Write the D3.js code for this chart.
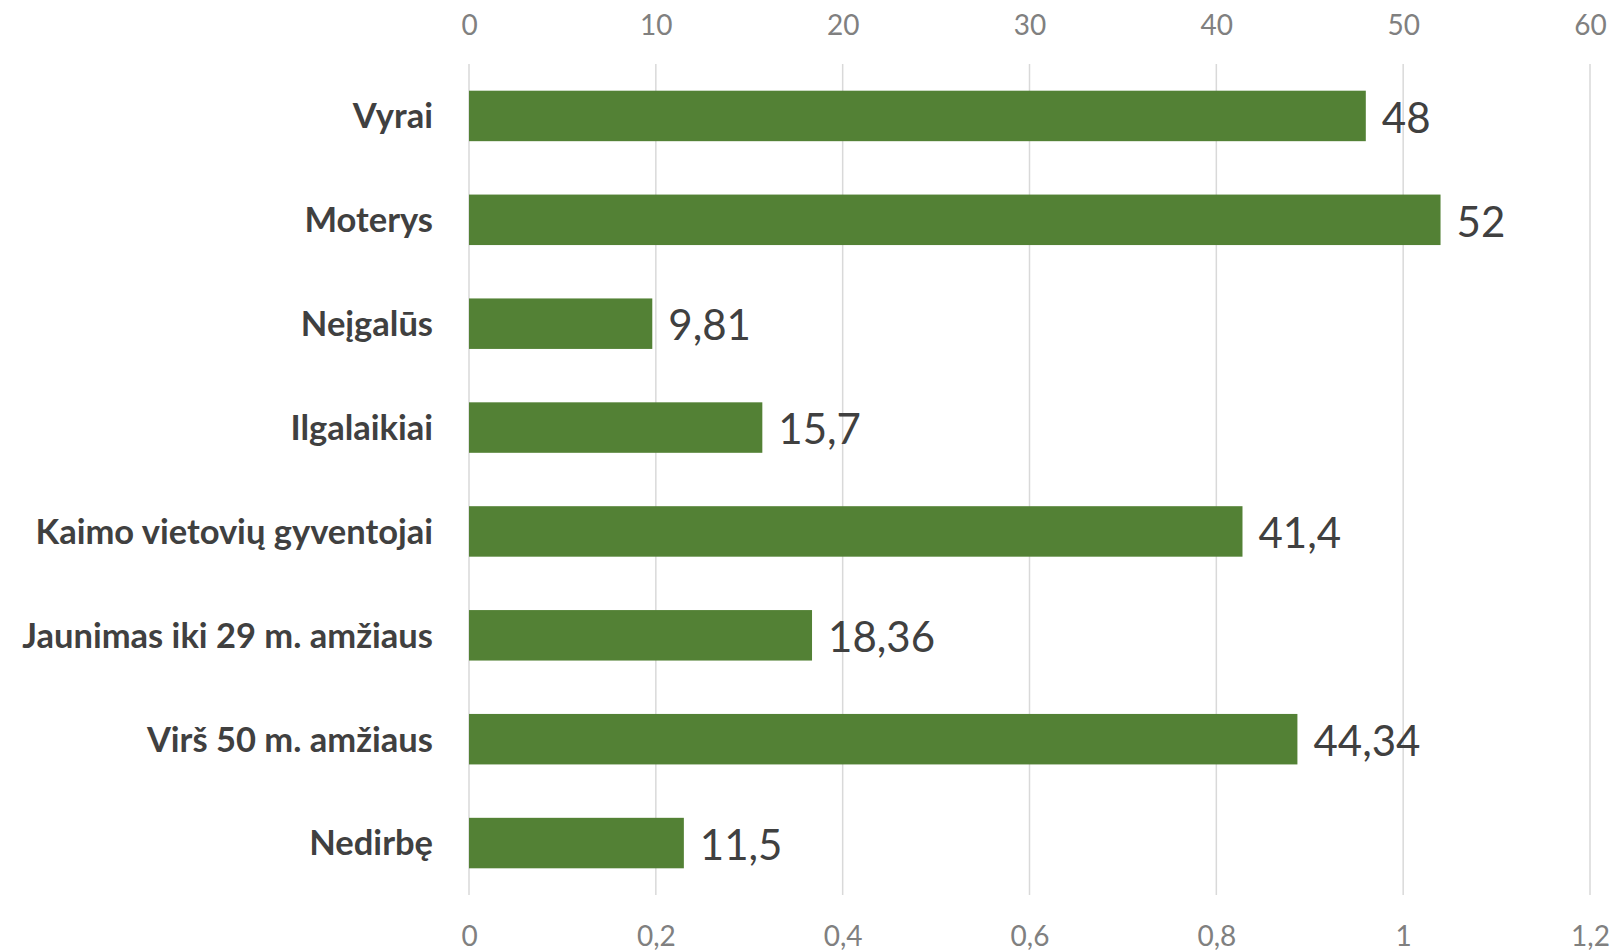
<!DOCTYPE html>
<html>
<head>
<meta charset="utf-8">
<script src="https://cdn.jsdelivr.net/npm/d3@7"></script>
<style>
  body { margin: 0; background: #fff; }
  svg text { font-family: Lato, "Open Sans", sans-serif; }
</style>
</head>
<body>
<svg id="chart" width="1616" height="952"></svg>
<script>
// chart data
var categories = ["Vyrai", "Moterys", "Neįgalūs", "Ilgalaikiai",
  "Kaimo vietovių gyventojai", "Jaunimas iki 29 m. amžiaus",
  "Virš 50 m. amžiaus", "Nedirbę"];
var values = [48, 52, 9.81, 15.7, 41.4, 18.36, 44.34, 11.5];
var topTicks = [0, 10, 20, 30, 40, 50, 60];
var bottomTicks = [0, 0.2, 0.4, 0.6, 0.8, 1, 1.2];

var svg = d3.select("svg#chart"),
  plotLeft = 469,
  plotRight = 1590,
  plotTop = 64,
  plotBottom = 895;

// lithuanian number format (comma decimal)
var lt = d3.formatLocale({ decimal: ",", thousands: " ", grouping: [3], currency: ["", " €"] });
var fmt = function (v) { return lt.format("")(v); };

var x = d3.scaleLinear().domain([0, 60]).range([plotLeft, plotRight]);
var x2 = d3.scaleLinear().domain([0, 1.2]).range([plotLeft, plotRight]);
var y = d3.scaleBand().domain(categories).range([plotTop, plotBottom])
  .paddingInner(0.514).paddingOuter(0.257);

// gridlines
svg.append("g")
  .selectAll("line")
  .data(topTicks)
  .enter()
  .append("line")
  .attr("x1", function (d) { return x(d); })
  .attr("x2", function (d) { return x(d); })
  .attr("y1", plotTop)
  .attr("y2", plotBottom)
  .attr("stroke", "#d9d9d9")
  .attr("stroke-width", 1.5);

// top axis
var gTop = svg.append("g")
  .attr("transform", "translate(0,25)")
  .call(d3.axisTop(x).tickValues(topTicks).tickSize(0).tickFormat(fmt))
  .attr("font-family", null)
  .attr("font-size", null);
gTop.select(".domain").remove();
gTop.selectAll("text")
  .attr("y", 0).attr("dy", "0.35em")
  .attr("fill", "#808080")
  .attr("font-size", 28);

// bottom axis
var gBot = svg.append("g")
  .attr("transform", "translate(0,936)")
  .call(d3.axisBottom(x2).tickValues(bottomTicks).tickSize(0).tickFormat(fmt))
  .attr("font-family", null)
  .attr("font-size", null);
gBot.select(".domain").remove();
gBot.selectAll("text")
  .attr("y", 0).attr("dy", "0.35em")
  .attr("fill", "#808080")
  .attr("font-size", 28);

// bars
svg.append("g")
  .selectAll("rect")
  .data(values)
  .enter()
  .append("rect")
  .attr("x", x(0))
  .attr("y", function (d, i) { return y(categories[i]); })
  .attr("width", function (d) { return x(d) - x(0); })
  .attr("height", y.bandwidth())
  .attr("fill", "#538135");

// value labels
svg.append("g")
  .selectAll("text")
  .data(values)
  .enter()
  .append("text")
  .attr("x", function (d) { return x(d) + 16; })
  .attr("y", function (d, i) { return y(categories[i]) + y.bandwidth() / 2; })
  .attr("dy", "0.4em")
  .attr("fill", "#404040")
  .attr("font-size", 42)
  .text(fmt);

// category labels
svg.append("g")
  .selectAll("text")
  .data(categories)
  .enter()
  .append("text")
  .attr("x", 433)
  .attr("y", function (d) { return y(d) + y.bandwidth() / 2; })
  .attr("dy", "0.36em")
  .attr("text-anchor", "end")
  .attr("fill", "#404040")
  .attr("font-weight", "bold")
  .attr("font-size", 34.5)
  .text(function (d) { return d; });
</script>
</body>
</html>
